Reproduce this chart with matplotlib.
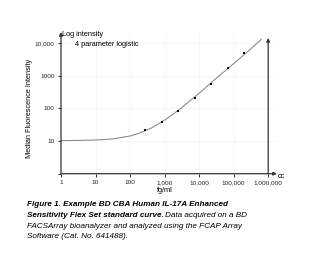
import matplotlib
matplotlib.use("Agg")
import matplotlib.pyplot as plt

plt.rcParams['font.family'] = ['Liberation Sans', 'DejaVu Sans']

# standards (fg/ml, MFI)
std_fgml = [274, 823, 2469, 7407, 22222, 66667, 200000]
std_mfi = [21.7, 38, 83, 207, 550, 1720, 4810]

# fitted 4PL curve
curve_fgml = [1, 3, 10, 30, 100, 200, 400, 800, 1500, 3000, 10000, 30000, 100000, 300000, 630000]
curve_mfi = [10.3, 10.4, 10.7, 11.5, 14.2, 17.8, 24.5, 37.4, 58.4, 101, 287, 800, 2310, 6300, 12800]

x_ticks = [1, 10, 100, 1000, 10000, 100000, 1000000]
x_labels = ['1', '10', '100', '1,000', '10,000', '100,000', '1,000,000']
y_ticks = [1, 10, 100, 1000, 10000]
y_labels = ['', '10', '100', '1000', '10,000']

W, H = 311, 258
fig = plt.figure(figsize=(W / 100, H / 100), dpi=100)
ax = fig.add_axes([61 / W, 1 - 173.7 / H, (277 - 61) / W, (173.7 - 32) / H])
ax.set_xscale('log')
ax.set_yscale('log')
ax.set_xlim(1, 1.8e6)
ax.set_ylim(1, 21500)

axc = '#333333'
ax.plot(curve_fgml, curve_mfi, color='#8c8c8c', lw=0.8, zorder=2)
ax.scatter(std_fgml, std_mfi, s=3, marker='s', color='black', zorder=3, linewidths=0)

for s in ax.spines.values():
    s.set_visible(False)
ax.grid(True, color='#f2f2f2', lw=0.4)
ax.set_axisbelow(True)

arrow = dict(arrowstyle='-|>', color=axc, lw=0.9, mutation_scale=5, shrinkA=0, shrinkB=0)
ax.annotate('', xy=(1, 21500), xytext=(1, 1), arrowprops=arrow, annotation_clip=False)
ax.annotate('', xy=(1.8e6, 1), xytext=(1, 1), arrowprops=arrow, annotation_clip=False)
ax.annotate('', xy=(1e6, 14100), xytext=(1e6, 1), arrowprops=arrow, annotation_clip=False)

ax.set_xticks(x_ticks)
ax.set_xticklabels(x_labels)
ax.set_yticks(y_ticks)
ax.set_yticklabels(y_labels)
ax.minorticks_off()
ax.tick_params(axis='both', length=2.5, width=0.7, color=axc, labelsize=4.6, pad=2, labelcolor='#222222')

fs = 5.3
fig.text(62 / W, 1 - 35 / H, 'Log intensity', fontsize=fs, va='center', ha='left')
fig.text(75 / W, 1 - 44 / H, '4 parameter logistic', fontsize=fs, va='center', ha='left')
fig.text(30 / W, 1 - 108 / H, 'Median Fluorescence Intensity', fontsize=fs, rotation=90,
         va='center', ha='center')
fig.text(165 / W, 1 - 190 / H, 'fg/ml', fontsize=fs, va='center', ha='center')
fig.text(278 / W, 1 - 176 / H, 'cc', fontsize=fs, va='center', ha='left')

# caption
cs = 5.9
x0 = 26.7 / W
fig.text(x0, 1 - 205 / H, 'Figure 1. Example BD CBA Human IL-17A Enhanced', fontsize=cs,
         fontweight='bold', style='italic', va='center', ha='left')
t2 = fig.text(x0, 1 - 215.5 / H, 'Sensitivity Flex Set standard curve.', fontsize=cs,
              fontweight='bold', style='italic', va='center', ha='left')
fig.canvas.draw()
bb = t2.get_window_extent(renderer=fig.canvas.get_renderer())
fig.text(bb.x1 / W + 1.5 / W, 1 - 215.5 / H, 'Data acquired on a BD', fontsize=cs,
         style='italic', va='center', ha='left')
fig.text(x0, 1 - 226 / H, 'FACSArray bioanalyzer and analyzed using the FCAP Array', fontsize=cs,
         style='italic', va='center', ha='left')
fig.text(x0, 1 - 236.7 / H, 'Software (Cat. No. 641488).', fontsize=cs,
         style='italic', va='center', ha='left')

fig.savefig('out.png', dpi=100)
